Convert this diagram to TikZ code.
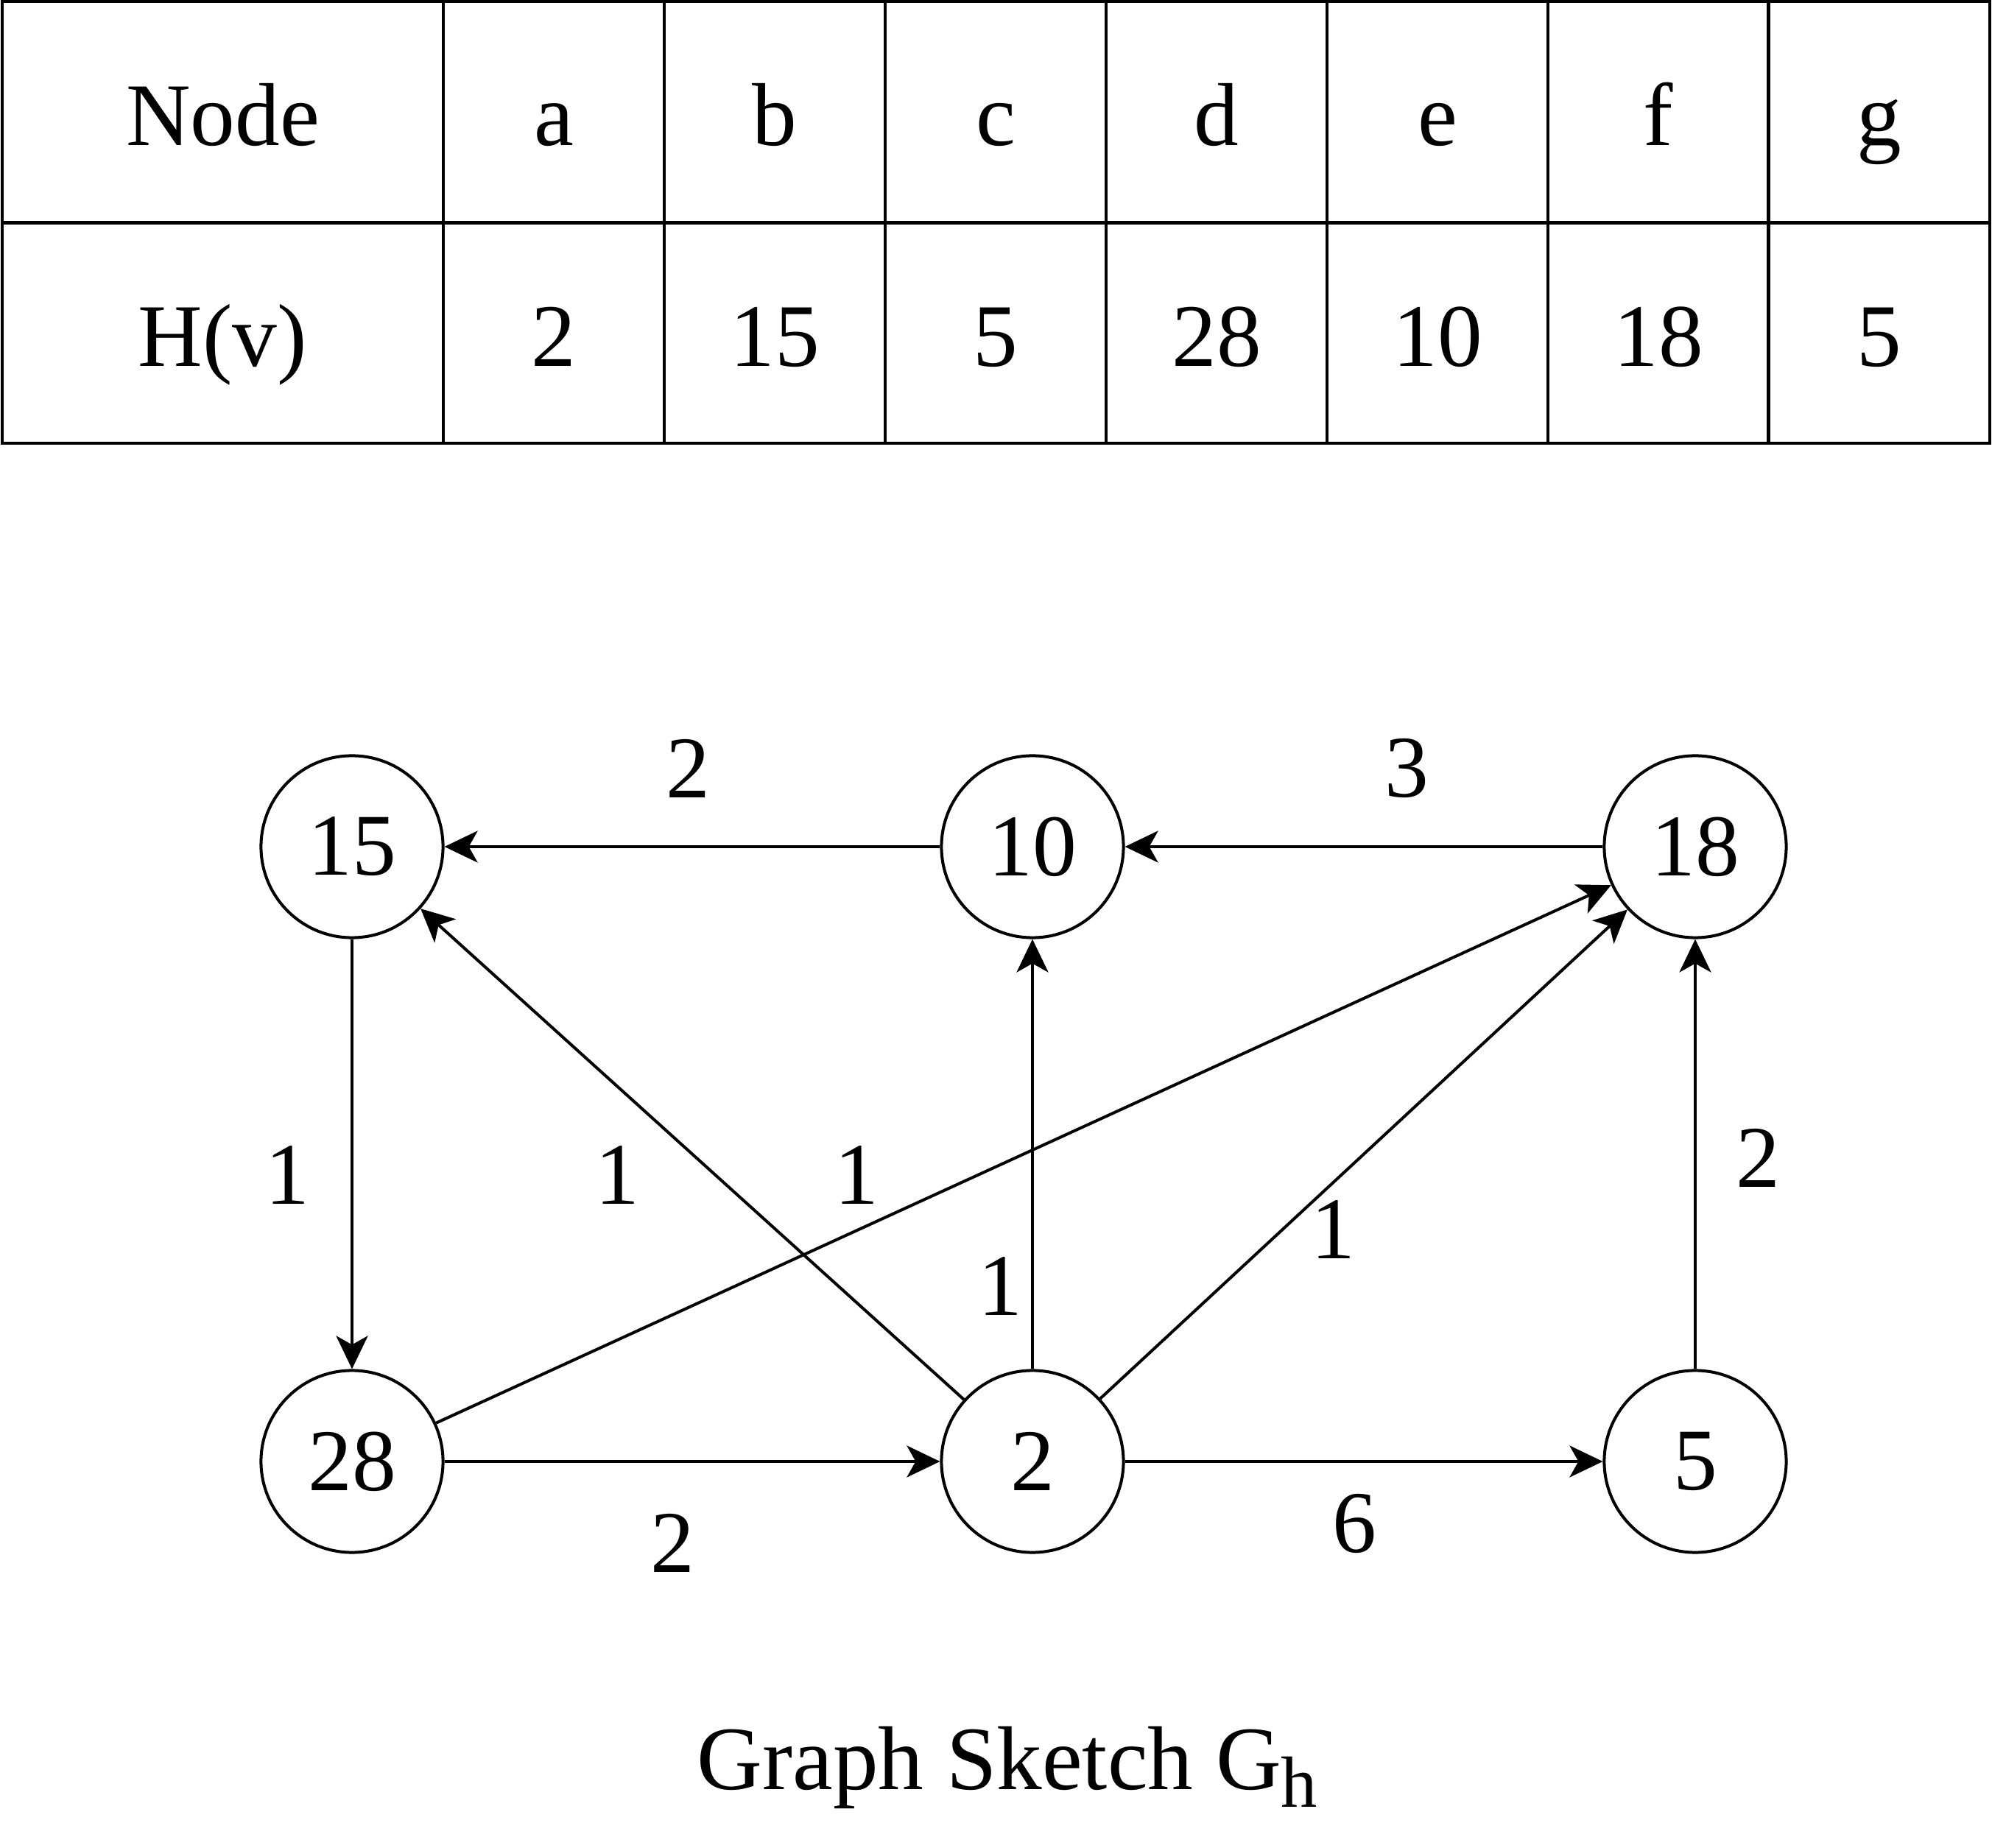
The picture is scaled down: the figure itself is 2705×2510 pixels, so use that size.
\documentclass[tikz,border=0pt]{standalone}
\usepackage{fontspec}
\setmainfont{Liberation Serif}
\usepackage{tikz}
\usetikzlibrary{positioning}
\usetikzlibrary{shapes,arrows.meta}
\tikzstyle{cell} = [rectangle, draw, line width=1.14pt, minimum width=3cm, minimum height=3cm,
inner sep=0pt, text height=0.9cm, text depth=0pt, font=\fontsize{34.5pt}{36pt}\selectfont]
\tikzstyle{headcell} = [cell, minimum width=5.99cm]
\tikzstyle{vertex} = [circle, draw, line width=1.14pt, minimum size=2.47cm, inner sep=0pt,
font=\fontsize{34pt}{36pt}\selectfont]
\tikzstyle{weight} = [inner sep=0pt, font=\fontsize{34pt}{36pt}\selectfont]
\tikzstyle{line} = [draw, line width=1.14pt, -{Stealth[length=0.45cm, width=0.43cm, inset=0.12cm]}]

\begin{document}
\begin{tikzpicture}[x=0.01cm, y=-0.01cm]
    \useasboundingbox (0,0) rectangle (2705,2510);
    % table
    \node [headcell] (hnode) at (302.5,152.5) {Node};
    \node [headcell] (hval) at (302.5,452) {H(v)};
    \node [cell] (ta) at (752,152.5) {a};
    \node [cell] (tb) at (1052,152.5) {b};
    \node [cell] (tc) at (1352,152.5) {c};
    \node [cell] (td) at (1652,152.5) {d};
    \node [cell] (te) at (1952,152.5) {e};
    \node [cell] (tf) at (2252,152.5) {f};
    \node [cell] (tg) at (2551.5,152.5) {g};
    \node [cell] (ha) at (752,452) {2};
    \node [cell] (hb) at (1052,452) {15};
    \node [cell] (hc) at (1352,452) {5};
    \node [cell] (hd) at (1652,452) {28};
    \node [cell] (he) at (1952,452) {10};
    \node [cell] (hf) at (2252,452) {18};
    \node [cell] (hg) at (2551.5,452) {5};

    % nodes
    \node [vertex] (v15) at (478,1150) {15};
    \node [vertex] (v10) at (1402,1150) {10};
    \node [vertex] (v18) at (2302,1150) {18};
    \node [vertex] (v28) at (478,1985) {28};
    \node [vertex] (v2) at (1402,1985) {2};
    \node [vertex] (v5) at (2302,1985) {5};

    % edges
    \path [line] (v10) -- (v15);
    \path [line] (v18) -- (v10);
    \path [line] (v15) -- (v28);
    \path [line] (v2) -- (v15);
    \path [line] (v28) -- (v18);
    \path [line] (v2) -- (v10);
    \path [line] (v2) -- (v18);
    \path [line] (v5) -- (v18);
    \path [line] (v28) -- (v2);
    \path [line] (v2) -- (v5);

    % weights
    \node [weight] (w1) at (934,1044) {2};
    \node [weight] (w2) at (1910,1044) {3};
    \node [weight] (w3) at (390,1596) {1};
    \node [weight] (w4) at (838,1596) {1};
    \node [weight] (w5) at (1163,1596) {1};
    \node [weight] (w6) at (1358,1747) {1};
    \node [weight] (w7) at (1810,1670) {1};
    \node [weight] (w8) at (2387,1573) {2};
    \node [weight] (w9) at (913,2096) {2};
    \node [weight] (w10) at (1839,2069) {6};

    % caption
    \node [anchor=base, inner sep=0pt, font=\fontsize{35pt}{37pt}\selectfont] (title) at (1368,2430)
        {Graph Sketch G\raisebox{-0.24cm}{\fontsize{28pt}{30pt}\selectfont h}};
\end{tikzpicture}
\end{document}
